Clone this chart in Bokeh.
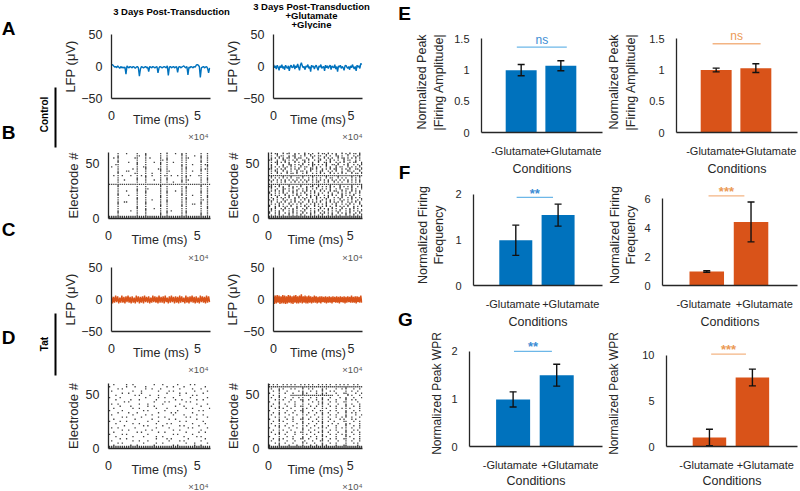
import numpy as np
from bokeh.plotting import figure
from bokeh.models import Range1d, FixedTicker
from bokeh.layouts import row, column
from bokeh.embed import file_html
from bokeh.resources import INLINE
from bokeh.core.properties import value

FONT = "Liberation Sans"
INK = "#262626"
BLUE = "#0072BD"
ORANGE = "#D95319"

# ---------------- data ----------------
sample_ms = 600
time_max_ms = 57500
time_ticks = [0, 50000]
time_tick_labels = ["0", "5"]
time_multiplier = "×10⁴"

lfp_ctrl_pre = [2, 3, 1, -1, 0, -2, 1, -1, -3, 0, -2, -1,
                -2, -1, -12, 1, -1, -2, 0, -1, -2, 0, -1, -3,
                -1, 0, -2, -15, -4, 0, -1, -2, -1, 0, -2, -1,
                -8, 0, -1, -2, 0, -1, -2, -1, 0, -10, -2, 0,
                -1, -2, -1, 0, -1, -2, 1, -14, -1, 0, -2, -1,
                0, -2, -1, 0, -9, -1, 0, -2, -1, 0, 1, -1,
                -2, 0, -13, -1, -2, 0, -1, -2, 0, -1, 2, 3,
                2, 0, -17, -2, -1, 0, -2, -1, 0, -3, -10, -2]
lfp_ctrl_glu = [3, -2, 1, -4, 2, -1, -6, 1, -2, 3, -3, 0,
                -5, 2, -1, -3, 1, -7, 0, 2, -2, -1, 3, -4,
                1, -2, 4, -1, -6, 2, 6, 1, -2, 0, -5, 1,
                -1, 3, -3, 0, -8, 2, -1, 1, -4, 0, 2, -2,
                -6, 1, -1, 3, -3, -1, 0, -7, 2, -2, 1, -3,
                0, 2, -5, 1, -1, -2, 3, -4, 0, -8, 1, -1,
                2, -3, 0, -2, -6, 1, 2, -1, -3, 0, -5, 1,
                -2, 3, -1, -4, 0, -7, 2, -1, 1, -3, 5, 3]
lfp_tat_pre = [5, -6, 4, -5, 6, -4, 5, -6, 3, -5, 6, -5,
               4, -6, 5, -4, 6, -5, 4, -6, 5, -5, 3, -6,
               6, -4, 5, -6, 4, -5, 5, -6, 6, -4, 4, -5,
               5, -6, 3, -5, 6, -4, 5, -5, 4, -6, 6, -5,
               4, -5, 5, -6, 6, -4, 3, -6, 5, -5, 6, -4,
               4, -6, 5, -5, 4, -6, 6, -5, 5, -4, 3, -6,
               6, -5, 4, -6, 5, -4, 6, -5, 4, -6, 5, -5,
               3, -6, 6, -4, 5, -5, 4, -6, 6, -5, 5, -4]
lfp_tat_glu = [7, -7, 6, -6, 7, -5, 6, -7, 5, -6, 7, -6,
               6, -7, 5, -6, 7, -5, 6, -6, 5, -7, 6, -5,
               7, -6, 5, -6, 6, -5, 8, -6, 5, -5, 6, -6,
               5, -6, 6, -5, 5, -6, 4, -5, 6, -5, 5, -6,
               4, -5, 5, -6, 5, -4, 4, -5, 5, -6, 4, -5,
               5, -5, 4, -6, 5, -4, 4, -5, 5, -5, 4, -6,
               5, -4, 4, -5, 5, -6, 4, -5, 5, -4, 4, -5,
               6, -5, 4, -5, 5, -6, 5, -4, 4, -5, 6, -5]

# raster: one string per electrode pair (top row = electrodes 59-60), one char per 1.2 s bin
# '.' none, 'o' spike on lower electrode, 'x' spikes on both electrodes
raster_bin_ms = 1200
raster_bins = 48
electrode_ticks = [0, 50]
raster_ctrl_pre = [
    "....o...o....o...o......o..x...o..o.o......o..o.",
    "....o........oo..x......o..o......x.o...o..o..o.",
    "..o.x.......oo...o.o....o..o......o.oo.....x..o.",
    "....o........o...o......oo.x......o.o......o..o.",
    "....x....o...o...o...o..o..o..o...o.o......x..o.",
    "...oo........x...o......x..o......o.o..o...o.oo.",
    ".o..o........o..oo......o..o......x.o......o..x.",
    "....o......o.o...x.....oo..o......o.x......o.oo.",
    "....o...oo...o...o......x..oo.....o.o..o...x..o.",
    "....x.......oo...o..o...o..o......o.o......o..o.",
    "..o.o.o...o..o.o.o..o...o.oo.o..o.o.o.o...oo..o.",
    "....o........o...x......o..o......o.x......o..o.",
    "....o..o.....x...o...o..o..x......o.oo.....o..x.",
    "....o........o...o......o..o..o...x.o......o..o.",
    "oooooooooooooooooooooooooooooooooooooooooooooooo",
    "....x........o...o......x..o......o.o......x..o.",
    "....o........o...oo.....o..o......o.x......o..o.",
    "....o...o....x...o......o..o...o..o.o......o..o.",
    "....o........o...x......o..x......o.o......x..o.",
    "....x....o...o...o......o..o......x.o..o...o..o.",
    "....o........o...o......x..o......o.o......o..x.",
    "....o........x...o..o...o..o......o.x......oo.o.",
    "....o..oo....o...o......o..x......o.o......o..o.",
    "....x........o...x......o..o......o.o..oo..x..o.",
    "....o........o...o......x..o......x.o......o..o.",
    "....o........x...o...o..o..o......o.o......o..x.",
    "....o.....o..o...x......o..o.o....o.o......o..o.",
    "....x........o...o......o..x......o.x......o..o.",
    "....o........o...o......x..o......o.o......x..o.",
    "xxxxxxxxxxxxxxxxxxxxxxxxxxxxxxxxxxxxxxxxxxxxxxxx",
]
raster_ctrl_glu = [
    ".x.oo..x.ox..o.o..x.o.o..x.oo.x.o.o..x.o.x.oo.x.",
    ".o..x.oo..o.ox..o.x..x.o.oo..x.o..xo.o..x..o.ox.",
    ".o.o.x.o.ox..x.oo..o..x..o..x.o.o..x.oo.o.o.x.o.",
    "ox..o..xo.o.o.x..oo.x..o.ox..o.x.o.o..x.oo..o.o.",
    ".o.ox.o.x.o..x.o..x.o.o..x..oo.x..o.o.x..o.ox..o",
    ".o..x..o..xo.o.o.x..o.xo.o.o.x..oo.x..o.x..o.o.x",
    ".x.o.o.x.o.x.o..x.oo..x.o.o..x.o..x.oo..x.o.o.x.",
    "ox..o.o.x..o.o.x..o..xo.x..o.o.x.ox..o.o.x..oo.x",
    ".o.xo..x.o.o..x.oo.o.x..o.ox..o.o.x..o..xo.o..x.",
    ".o..x.o..x.oo.x..o.x..o.o.x.o..x.o.o.x.o..x.oo.x",
    "oooooooooooooooooooooooooooooooooooooooooooooooo",
    ".x.o.o.x.o.x..oo.x..o.x.o.o..x.oo..x.o.o..x.o.x.",
    "o.o.o.o.o.o.o.o.o.o.o.o.o.o.o.o.o.o.o.o.o.o.o.o.",
    ".x..o.o.x..o.x.o.o.x..o.ox..o.x..x.o.o..x.o.o.x.",
    "oooooooooooooooooooooooooooooooooooooooooooooooo",
    "ox.o.x.o..x.o.o.x..o.ox..x.o.o.x.o..x.o.o.x..o.x",
    ".x..o..xo.o.x..o.o.x..o.x..o.o.x..o.x..oo.x.o..x",
    ".o.x.o.x..o.o.x..o.x.o.o..x.o..x.oo..x.o..x.o.o.",
    "x..o.o.x.o..x.o.o.x..o.x.o.o..x.o..x.o.o.x..o.x.",
    ".x.o.o..x.o.o.x.o..x.o.o.x..o.o.x.o..x.o.o.x..o.",
    ".o..x.o.o.x..o.x.o.o.x..x.o.o.x..o.o.x..o.x.o.o.",
    "o.x.o..x.o.o.x..o.x.o.o.x..o.x.o.o..x.o.o.x..o.x",
    ".x..o.o.x..o.x.o.o..x.o.o.x..o.x.o.o.x..o.o.x.o.",
    ".o.o.x.o..x.o.o.x..o.o.x.o.o.x..o.x..o.o.x.o..x.",
    "x..o.x.o.o.x..o.o.x.o..x.o.o.x.o..x.o.o.x..o.o.x",
    ".o.x..o.x.o.o.x..o.x.o.o..x.o.o.x.o..x.o.o.x.o..",
    ".x.o.o.x..o.x.o.o.x..o.o.x.o..x.o.o.x..o.x.o.o.x",
    "x..o.x..o.o.x.o..x.o.o.x..o.x.o.o..x.o.o.x..o.x.",
    ".o.o.x.o..x.o.o.x.o..x.o.o.x..o.x.o.o..x.o.x.o.x",
    "xxxxxxxxxxxxxxxxxxxxxxxxxxxxxxxxxxxxxxxxxxxxxxxx",
]
raster_tat_pre = [
    "..o.....o..o.........o...o......o.....o.o.......",
    "o.......o...o....o.........o..o....o.........o..",
    "....o.o..........o..o...o........o.....o...o....",
    ".o.........o...o.......o....o.o.........o.....o.",
    "......o..o.....o...........o.....o..o.......o...",
    "...o........o.o....o...o.........o.....o.o......",
    "o....o...........o.....o..o...o.......o.......o.",
    "...o......o...o.......o........o..o......o..o...",
    ".......o.o...........o....o.o.......o.o.........",
    ".o..o.........o...o......o.......o.......o....o.",
    ".....o....o.......o..o.........o...o.......o....",
    "..o........o..o.......o....o........o..o.......o",
    "o.....o.........o.o.......o.....o.........o.o...",
    "....o....o...o.........o.....o.o.......o........",
    ".o.........o.....o..o.........o....o.....o..o...",
    "......o.o......o.......o..o.........o.o.......o.",
    "..o.........o.......o.......o..o.........o......",
    "o....o..o.........o....o.........o..o.......o...",
    "...o.......o..o.......o....o.o.........o.....o..",
    ".......o........o.o......o.......o.o......o.....",
    ".o..o.......o.........o.....o........o.o......o.",
    "......o..o.......o..o.........o..o.........o....",
    "..o..........o.o.......o..o.........o.....o..o..",
    "o.....o.o.........o...........o.o......o........",
    "...o.......o....o.....o..o.........o.....o.o....",
    ".....o..o.............o....o.o.......o.......o..",
    ".o.........o..o...o.........o....o.o.......o....",
    "....o.o.........o.....o..o..........o...o.....o.",
    "..o.......o..o.......o........o.o.......o..o....",
    "xxxxxxxxxxxxxxxxxxxxxxxxxxxxxxxxxxxxxxxxxxxxxxxx",
]
raster_tat_glu = [
    "o.o.o..o.o.o.o..o.o.o.o..o.o.o.o..o.o.o.o..o.o.",
    "oooooooooooooooooooooooooooooooooooooooooooooooo",
    ".o...o.o...o.o...x..o.o....o.o....o..o.x...o..o",
    "..o..x...o.....o.o...o..o..x...o.o.....o..o..o..",
    "o....o..o...o....x.o....o..o.o....o...oo....o..o",
    "..o..o.....ooooooxoooooooooxooooo..o....x.o...o.",
    ".o...x..o...o..o.o...o..o..o...o....o..o...o...o",
    "...o.o.o...o....oo..o...o..x..o...o....x..o.o...",
    "o....o....o..o...x....o..o.o...o..o...oo.....o..",
    "..o..x..o....o...o..o....o.x..o....o...o..o...o.",
    ".o...o...o...o..oo...o..o..o...o..o....x...o..o.",
    "...o.x.o...o.....o.o...o...o.o....o..o.o.o....o.",
    "o....o...o...o..ox....o...oo...o..o....o...o..o.",
    "..o..o..o...o....x..o...o..o..o....o...x..o.o...",
    ".o...x....o...o..o.o...o...x...o..o....o....o..o",
    "...o.o..o...o....o...o...o.o..o...o..o.x..o...o.",
    "o....o...o..o...ox..o...o..o...o....o.o...o.o...",
    "..o..x.o....o....o....o..o.o..o..o....oo...o..o.",
    ".o...o...o....o..x..o...o..x....o..o...o.o....o.",
    "...o.o..o...o....o.o...o...o..o...o....x...o..o.",
    "o....x....o...o..o...o...o.x.o....o..o.o..o...o.",
    "..o..o.o...o.....x..o..o...o...o..o....o...o.o..",
    ".o...o...o...o..oo...o...o.x..o....o...x..o...o.",
    "...o.x..o....o...o.o...o...o...o..o..o.o...o..o.",
    "o....o...o..o....o...o..o..x.o....o....x.o....o.",
    "..o..o.o....o...ox..o...o..o...o..o...oo...o..o.",
    ".o...x...o...o....o...o...ox..o....o...o..o...o.",
    "...o.o..o...o....x.o...o...o...o..o....o...o.o..",
    "o....x....o...o..o...o..o..x.o....o...oo.....o..",
    "xxxxxxxxxxxxxxxxxxxxxxxxxxxxxxxxxxxxxxxxxxxxxxxx",
]

conditions = ["-Glutamate", "+Glutamate"]
cond_x = [1, 2]
cond_label_x = [0.93, 2.30]

amp_ctrl, amp_ctrl_err = [1.00, 1.07], [0.09, 0.08]
amp_tat, amp_tat_err = [1.00, 1.03], [0.03, 0.07]
freq_ctrl, freq_ctrl_err = [0.99, 1.54], [0.33, 0.24]
freq_tat, freq_tat_err = [0.97, 4.40], [0.05, 1.38]
wpr_ctrl, wpr_ctrl_err = [0.99, 1.50], [0.16, 0.23]
wpr_tat, wpr_tat_err = [0.98, 7.55], [0.90, 0.92]

amp_ticks, amp_tick_labels = [0, 0.5, 1, 1.5], ["0", "0.5", "1", "1.5"]
freq_ctrl_ticks, freq_ctrl_tick_labels = [0, 1, 2], ["0", "1", "2"]
freq_tat_ticks, freq_tat_tick_labels = [0, 2, 4, 6], ["0", "2", "4", "6"]
wpr_ctrl_ticks, wpr_ctrl_tick_labels = [0, 1, 2], ["0", "1", "2"]
wpr_tat_ticks, wpr_tat_tick_labels = [0, 5, 10], ["0", "5", "10"]

# significance: label, bracket x-span, bracket height, label height
sig_amp_ctrl = ("ns", [0.89, 2.15], 1.37, 1.49)
sig_amp_tat = ("ns", [0.91, 2.12], 1.42, 1.545)
sig_freq_ctrl = ("**", [1.02, 1.88], 1.93, 2.01)
sig_freq_tat = ("***", [1.04, 1.85], 6.2, 6.48)
sig_wpr_ctrl = ("**", [1.02, 1.89], 2.00, 2.10)
sig_wpr_tat = ("***", [1.04, 1.85], 10.1, 10.63)

column_titles = ["3 Days Post-Transduction",
                 "3 Days Post-Transduction", "+Glutamate", "+Glycine"]

# ---------------- helpers ----------------
def style_axis(ax):
    ax.axis_line_color = INK
    ax.axis_line_width = 1.3
    ax.major_tick_line_color = None
    ax.minor_tick_line_color = None
    ax.major_label_text_font = FONT
    ax.major_label_text_color = INK
    ax.axis_label_text_font = FONT
    ax.axis_label_text_color = INK
    ax.axis_label_text_font_style = "normal"


def make_fig(cell, frame, x_range, y_range):
    cx0, cy0, cx1, cy1 = cell
    fx0, fy0, fx1, fy1 = frame
    p = figure(width=cx1 - cx0, height=cy1 - cy0, x_range=x_range, y_range=y_range,
               output_backend="svg", toolbar_location=None,
               min_border_left=fx0 - cx0, min_border_right=cx1 - fx1,
               min_border_top=fy0 - cy0, min_border_bottom=cy1 - fy1)
    p.outline_line_color = None
    p.xgrid.grid_line_color = None
    p.ygrid.grid_line_color = None
    p.background_fill_color = "white"
    p.border_fill_color = "white"
    for ax in p.axis:
        style_axis(ax)
    return p


def time_axis(p):
    ax = p.xaxis[0]
    ax.ticker = FixedTicker(ticks=time_ticks)
    ax.major_label_overrides = dict(zip(time_ticks, time_tick_labels))
    ax.major_label_text_font_size = "12.5px"
    ax.major_label_standoff = 6
    ax.axis_label = "Time (ms)"
    ax.axis_label_text_font_size = "12.5px"
    ax.axis_label_standoff = -10


def left_axis(p, ticks, label, standoff):
    ax = p.yaxis[0]
    ax.ticker = FixedTicker(ticks=ticks)
    ax.major_label_text_font_size = "12.5px"
    ax.major_label_standoff = 3
    ax.axis_label = label
    ax.axis_label_text_font_size = "13px"
    ax.axis_label_standoff = standoff


def lfp_fig(cell, frame, series, color):
    p = make_fig(cell, frame, Range1d(0, time_max_ms), Range1d(-50, 50))
    t = [i * sample_ms for i in range(len(series))]
    p.line(t, series, line_color=color, line_width=1.4)
    left_axis(p, [-50, 0, 50], "LFP (μV)", 0)
    time_axis(p)
    return p


def raster_fig(cell, frame, rows):
    p = make_fig(cell, frame, Range1d(0, time_max_ms), Range1d(0, 60))
    xs, ys = [], []
    n = len(rows)
    for i, s in enumerate(rows):
        s = (s + "." * raster_bins)[:raster_bins]
        e = 2 * (n - 1 - i) + 1
        for j, c in enumerate(s):
            t = (j + 0.5) * raster_bin_ms
            if c in "ox":
                xs.append(t); ys.append(e)
            if c == "x":
                xs.append(t); ys.append(e + 1)
    p.scatter(xs, ys, marker="square", size=1.3, fill_color="black",
              line_color=None, fill_alpha=0.75)
    left_axis(p, electrode_ticks, "Electrode #", 2)
    time_axis(p)
    return p


def bar_fig(cell, frame, y_end, vals, errs, color, ticks, tick_labels, ylabel,
            yl_standoff, sig, sig_line, sig_text, yl_size="12.5px", xl_standoff=2):
    p = make_fig(cell, frame, Range1d(0, 3.05), Range1d(0, y_end))
    p.vbar(x=cond_x, top=vals, width=0.78, fill_color=color, line_color=None)
    lo = [v - e for v, e in zip(vals, errs)]
    hi = [v + e for v, e in zip(vals, errs)]
    p.segment(cond_x, lo, cond_x, hi, line_color="#111111", line_width=1.4)
    p.scatter(cond_x + cond_x, lo + hi, marker="dash", size=7,
              line_color="#111111", line_width=1.4)
    label, span, ly, ty = sig
    p.segment([span[0]], [ly], [span[1]], [ly], line_color=sig_line, line_width=1.3)
    star = "*" in label
    p.text([(span[0] + span[1]) / 2], [ty], text=[label], text_font=value(FONT),
           text_font_size="13px" if star else "12px",
           text_font_style="bold" if star else "normal",
           text_align="center", text_baseline="middle", text_color=sig_text)
    ya = p.yaxis[0]
    ya.ticker = FixedTicker(ticks=ticks)
    ya.major_label_overrides = dict(zip(ticks, tick_labels))
    ya.bounds = (0, ticks[-1])
    ya.major_label_text_font_size = "11px"
    ya.major_label_standoff = 6
    ya.axis_label = ylabel
    ya.axis_label_text_font_size = yl_size
    ya.axis_label_standoff = yl_standoff
    xa = p.xaxis[0]
    xa.ticker = FixedTicker(ticks=cond_label_x)
    xa.major_label_overrides = dict(zip(cond_label_x, conditions))
    xa.major_label_text_font_size = "11px"
    xa.major_label_standoff = 6
    xa.axis_label = "Conditions"
    xa.axis_label_text_font_size = "12.5px"
    xa.axis_label_standoff = xl_standoff
    return p


def deco_fig(x0, x1, y0, y1):
    d = figure(width=x1 - x0, height=y1 - y0, x_range=Range1d(x0, x1), y_range=Range1d(y1, y0),
               output_backend="svg", toolbar_location=None,
               x_axis_location=None, y_axis_location=None,
               min_border_left=0, min_border_right=0, min_border_top=0, min_border_bottom=0)
    d.outline_line_color = None
    d.xgrid.grid_line_color = None
    d.ygrid.grid_line_color = None
    d.background_fill_color = "white"
    d.border_fill_color = "white"
    return d


def mult_strip(y0, y1, yc):
    s = deco_fig(60, 386, y0, y1)
    s.text(x=[208, 362], y=[yc, yc], text=[time_multiplier, time_multiplier],
           text_font=value(FONT), text_font_size="9.5px", text_align="right",
           text_baseline="middle", text_color="#555555")
    return s

# ---------------- left block ----------------
colA1, colA2 = (60, 222), (222, 386)
fA1, fA2 = (108, 210), (262, 362)
# cells: (top, bottom); frames: (top, bottom); the bottom border holds tick labels + "Time (ms)"
rows_left = {"A": ((29, 130), (34, 98)), "B": ((150, 250), (152, 218)),
             "C": ((261, 363), (267, 331)), "D": ((382, 479), (383, 448))}

def cells(col, fcol, r):
    (cy0, cy1), (fy0, fy1) = r
    return (col[0], cy0, col[1], cy1), (fcol[0], fy0, fcol[1], fy1)

title_strip = deco_fig(60, 386, 0, 29)
title_strip.text(x=[171, 311, 311, 311], y=[11, 5.5, 14.5, 23.5], text=column_titles,
                 text_font=value(FONT), text_font_style="bold", text_font_size="9.5px",
                 text_align="center", text_baseline="middle", text_color="black")

cA1, frA1 = cells(colA1, fA1, rows_left["A"])
cA2, frA2 = cells(colA2, fA2, rows_left["A"])
pA1 = lfp_fig(cA1, frA1, lfp_ctrl_pre, BLUE)
pA2 = lfp_fig(cA2, frA2, lfp_ctrl_glu, BLUE)

cB1, frB1 = cells(colA1, fA1, rows_left["B"])
cB2, frB2 = cells(colA2, fA2, rows_left["B"])
pB1 = raster_fig(cB1, frB1, raster_ctrl_pre)
pB2 = raster_fig(cB2, frB2, raster_ctrl_glu)

cC1, frC1 = cells(colA1, fA1, rows_left["C"])
cC2, frC2 = cells(colA2, fA2, rows_left["C"])
pC1 = lfp_fig(cC1, frC1, lfp_tat_pre, ORANGE)
pC2 = lfp_fig(cC2, frC2, lfp_tat_glu, ORANGE)

cD1, frD1 = cells(colA1, fA1, rows_left["D"])
cD2, frD2 = cells(colA2, fA2, rows_left["D"])
pD1 = raster_fig(cD1, frD1, raster_tat_pre)
pD2 = raster_fig(cD2, frD2, raster_tat_glu)

sA = mult_strip(130, 150, 135.5)
sB = mult_strip(250, 261, 255.5)
sC = mult_strip(363, 382, 368.5)
sD = mult_strip(479, 490, 484.5)

# decoration column (panel letters, group labels)
deco = deco_fig(0, 60, 0, 490)
deco.text(x=[8, 8, 8, 8], y=[27.5, 131.5, 229, 336.5], text=["A", "B", "C", "D"],
          text_font=value(FONT), text_font_style="bold", text_font_size="19px",
          text_align="center", text_baseline="middle", text_color="black")
deco.text(x=[43.5, 43.5], y=[114, 343.5], text=["Control", "Tat"], angle=np.pi / 2,
          text_font=value(FONT), text_font_style="bold", text_font_size="10px",
          text_align="center", text_baseline="middle", text_color="black")
deco.segment(x0=[55, 55], y0=[87, 313], x1=[55, 55], y1=[147, 375],
             line_color="black", line_width=2)

deco2 = deco_fig(386, 412, 0, 490)
deco2.text(x=[404, 404, 405], y=[12.5, 171.5, 318.5], text=["E", "F", "G"],
           text_font=value(FONT), text_font_style="bold", text_font_size="19px",
           text_align="center", text_baseline="middle", text_color="black")

# ---------------- right block ----------------
c1x, c2x = (412, 604), (604, 799)
f1x, f2x = (469, 602), (662, 797)

def rc(cx, fx, cy, fy):
    return (cx[0], cy[0], cx[1], cy[1]), (fx[0], fy[0], fx[1], fy[1])

cE1, frE1 = rc(c1x, f1x, (0, 178), (25, 137))
cE2, frE2 = rc(c2x, f2x, (0, 178), (31, 138))
cF1, frF1 = rc(c1x, f1x, (178, 331), (182, 292))
cF2, frF2 = rc(c2x, f2x, (178, 331), (184, 292))
cG1, frG1 = rc(c1x, f1x, (331, 490), (340, 454))
cG2, frG2 = rc(c2x, f2x, (331, 490), (337, 454))

amp_label = "Normalized Peak\n|Firing Amplitude|"
freq_label = "Normalized Firing\nFrequency"
wpr_label = "Normalized Peak WPR"
BL_LINE, BL_TEXT = "#6DB7E8", "#3B8CD4"
OR_LINE, OR_TEXT = "#F3B483", "#EB9A55"

pE1 = bar_fig(cE1, frE1, 1.62, amp_ctrl, amp_ctrl_err, BLUE, amp_ticks, amp_tick_labels,
              amp_label, 5, sig_amp_ctrl, BL_LINE, BL_TEXT)
pE2 = bar_fig(cE2, frE2, 1.616, amp_tat, amp_tat_err, ORANGE, amp_ticks, amp_tick_labels,
              amp_label, 8, sig_amp_tat, OR_LINE, OR_TEXT)
pF1 = bar_fig(cF1, frF1, 2.21, freq_ctrl, freq_ctrl_err, BLUE, freq_ctrl_ticks,
              freq_ctrl_tick_labels, freq_label, 6, sig_freq_ctrl, BL_LINE, BL_TEXT)
pF2 = bar_fig(cF2, frF2, 6.99, freq_tat, freq_tat_err, ORANGE, freq_tat_ticks,
              freq_tat_tick_labels, freq_label, 3, sig_freq_tat, OR_LINE, OR_TEXT)
pG1 = bar_fig(cG1, frG1, 2.23, wpr_ctrl, wpr_ctrl_err, BLUE, wpr_ctrl_ticks,
              wpr_ctrl_tick_labels, wpr_label, 4, sig_wpr_ctrl, BL_LINE, BL_TEXT,
              yl_size="12px", xl_standoff=0)
pG2 = bar_fig(cG2, frG2, 11.6, wpr_tat, wpr_tat_err, ORANGE, wpr_tat_ticks,
              wpr_tat_tick_labels, wpr_label, 18, sig_wpr_tat, OR_LINE, OR_TEXT,
              yl_size="12px", xl_standoff=0)

left = column(title_strip, row(pA1, pA2), sA, row(pB1, pB2), sB,
              row(pC1, pC2), sC, row(pD1, pD2), sD)
right = column(row(pE1, pE2), row(pF1, pF2), row(pG1, pG2))
layout = row(deco, left, deco2, right)

open("out.html", "w").write(file_html(layout, INLINE, title="LFP and firing"))
